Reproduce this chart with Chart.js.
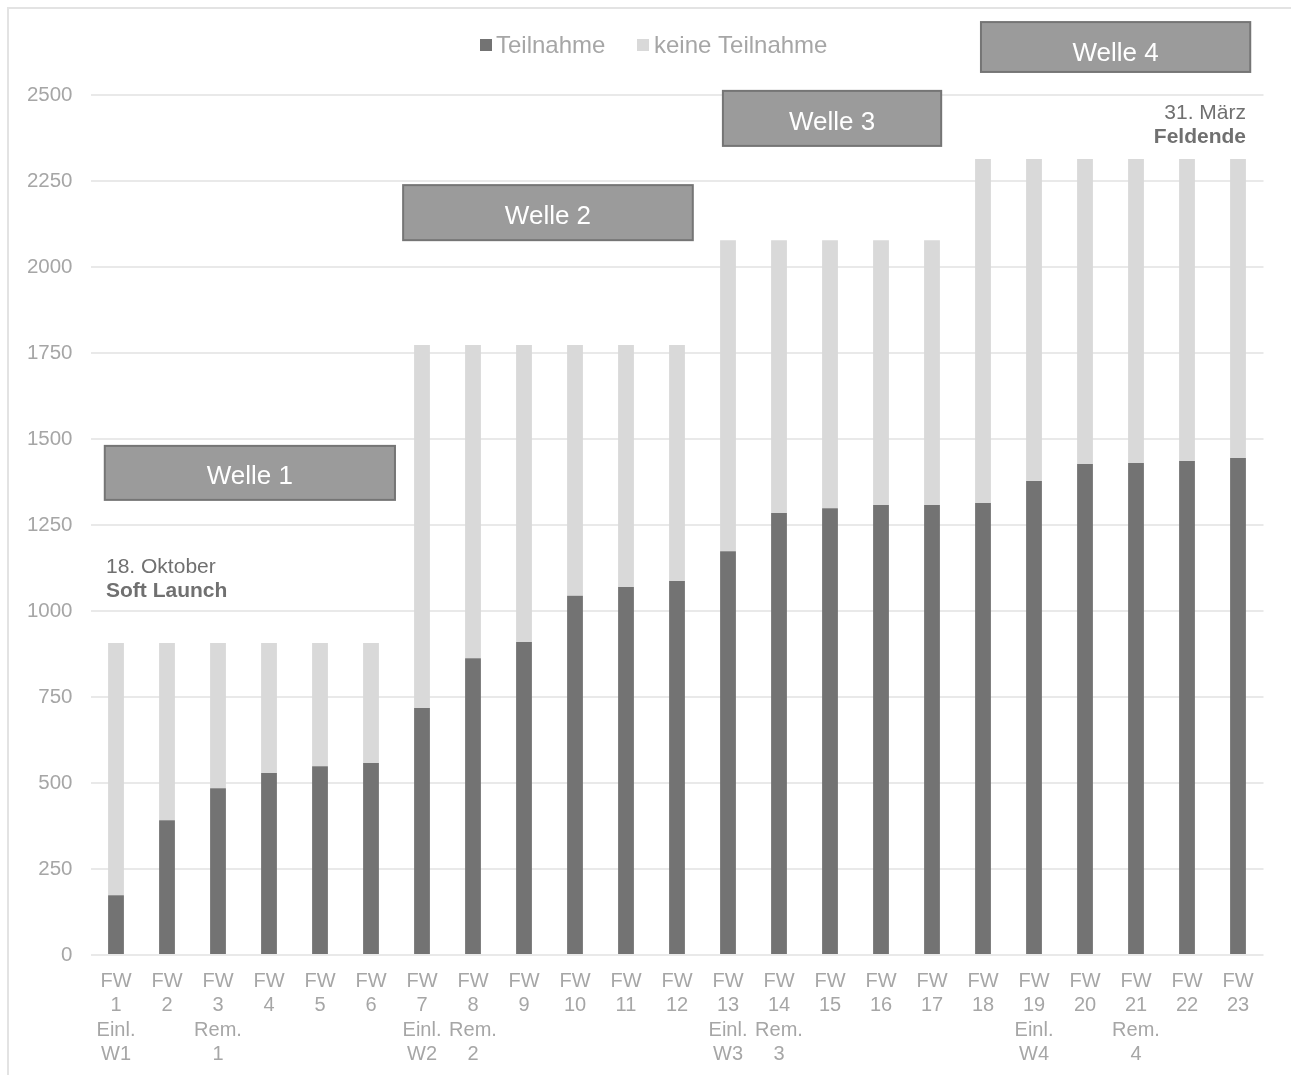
<!DOCTYPE html>
<html>
<head>
<meta charset="utf-8">
<script src="https://cdn.jsdelivr.net/npm/chart.js@4/dist/chart.umd.min.js"></script>
<style>
  html, body { margin: 0; padding: 0; background: #ffffff; }
  #wrap { width: 1291px; height: 1075px; position: relative; }
</style>
</head>
<body>
<div id="wrap"><canvas id="c" width="1291" height="1075"></canvas></div>
<script>
// ---- Data ----
const categories = [
  ["FW","1","Einl.","W1"], ["FW","2"], ["FW","3","Rem.","1"], ["FW","4"], ["FW","5"], ["FW","6"],
  ["FW","7","Einl.","W2"], ["FW","8","Rem.","2"], ["FW","9"], ["FW","10"], ["FW","11"], ["FW","12"],
  ["FW","13","Einl.","W3"], ["FW","14","Rem.","3"], ["FW","15"], ["FW","16"], ["FW","17"], ["FW","18"],
  ["FW","19","Einl.","W4"], ["FW","20"], ["FW","21","Rem.","4"], ["FW","22"], ["FW","23"]
];
const teilnahme = [174, 392, 485, 529, 549, 558, 718, 863, 910, 1044, 1070, 1087,
                   1174, 1285, 1299, 1308, 1308, 1314, 1378, 1427, 1430, 1436, 1445];
const eingeladen = [907, 907, 907, 907, 907, 907, 1773, 1773, 1773, 1773, 1773, 1773,
                    2078, 2078, 2078, 2078, 2078, 2314, 2314, 2314, 2314, 2314, 2314];
const keineTeilnahme = eingeladen.map((t, i) => t - teilnahme[i]);
const seriesNames = ["Teilnahme", "keine Teilnahme"];
const waveLabels = ["Welle 1", "Welle 2", "Welle 3", "Welle 4"];
// wave boxes: [xStart index, xEnd index, yTop value, yBottom value]
const waveBoxes = [
  [-0.22, 5.47, 1480, 1323],
  [5.63, 11.31, 2238, 2078],
  [11.9, 16.18, 2512, 2352],
  [16.96, 22.24, 2712, 2567]
];
const startNote = ["18. Oktober", "Soft Launch"];
const endNote = ["31. März", "Feldende"];
const yTicksMax = 2500, yStep = 250;

const FONT = "'Liberation Sans', Arial, sans-serif";
const DARK = "#737373", LIGHT = "#d9d9d9", TXT = "#a6a6a6";

const overlay = {
  id: 'overlay',
  afterDraw(chart) {
    const ctx = chart.ctx;
    const xs = chart.scales.x, ys = chart.scales.y;
    ctx.save();
    // outer frame (top and left)
    ctx.strokeStyle = "#e3e3e3";
    ctx.lineWidth = 2;
    ctx.beginPath();
    ctx.moveTo(8, 1075); ctx.lineTo(8, 8); ctx.lineTo(1291, 8);
    ctx.stroke();

    // legend
    ctx.font = "24px " + FONT;
    ctx.textBaseline = "middle";
    ctx.textAlign = "left";
    ctx.fillStyle = DARK; ctx.fillRect(480, 39, 12, 12);
    ctx.fillStyle = TXT; ctx.fillText(seriesNames[0], 496, 46);
    ctx.fillStyle = LIGHT; ctx.fillRect(637, 39, 12, 12);
    ctx.fillStyle = TXT; ctx.fillText(seriesNames[1], 654, 46);

    // wave boxes
    waveBoxes.forEach((b, i) => {
      const x1 = xs.getPixelForValue(b[0]), x2 = xs.getPixelForValue(b[1]);
      const y1 = ys.getPixelForValue(b[2]), y2 = ys.getPixelForValue(b[3]);
      ctx.fillStyle = "#9b9b9b";
      ctx.fillRect(x1, y1, x2 - x1, y2 - y1);
      ctx.strokeStyle = "#757575";
      ctx.lineWidth = 2;
      ctx.strokeRect(x1, y1, x2 - x1, y2 - y1);
      ctx.fillStyle = "#ffffff";
      ctx.font = "26px " + FONT;
      ctx.textAlign = "center";
      ctx.textBaseline = "middle";
      ctx.fillText(waveLabels[i], (x1 + x2) / 2, (y1 + y2) / 2 + (i === 3 ? 7 : 4));
    });

    // notes
    ctx.fillStyle = "#707070";
    ctx.textBaseline = "middle";
    ctx.textAlign = "left";
    const sx = xs.getPixelForValue(0) - 10;
    ctx.font = "21px " + FONT;
    ctx.fillText(startNote[0], sx, ys.getPixelForValue(1128));
    ctx.font = "bold 21px " + FONT;
    ctx.fillText(startNote[1], sx, ys.getPixelForValue(1058));
    ctx.textAlign = "right";
    const ex = xs.getPixelForValue(22) + 8;
    ctx.font = "21px " + FONT;
    ctx.fillText(endNote[0], ex, ys.getPixelForValue(2448));
    ctx.font = "bold 21px " + FONT;
    ctx.fillText(endNote[1], ex, ys.getPixelForValue(2378));
    ctx.restore();
  }
};

new Chart(document.getElementById('c'), {
  type: 'bar',
  data: {
    labels: categories,
    datasets: [
      { label: seriesNames[0], data: teilnahme, backgroundColor: DARK,
        barPercentage: 0.31, categoryPercentage: 1.0 },
      { label: seriesNames[1], data: keineTeilnahme, backgroundColor: LIGHT,
        barPercentage: 0.31, categoryPercentage: 1.0 }
    ]
  },
  options: {
    responsive: false,
    animation: false,
    devicePixelRatio: 1,
    layout: { padding: { top: 95, right: 27.5, left: 0, bottom: 0 } },
    plugins: { legend: { display: false }, tooltip: { enabled: false } },
    scales: {
      x: {
        stacked: true,
        grid: { display: false, drawTicks: false },
        border: { display: false },
        ticks: {
          color: TXT, padding: 14, maxRotation: 0, autoSkip: false,
          font: { family: FONT, size: 20, lineHeight: 1.22 }
        },
        afterFit(s) { s.height = 120; }
      },
      y: {
        stacked: true,
        min: 0, max: yTicksMax,
        grid: { color: "#e9e9e9", lineWidth: 2, drawTicks: false },
        border: { display: false },
        ticks: {
          stepSize: yStep, color: TXT, padding: 18,
          font: { family: FONT, size: 20.5 },
          callback: (v) => String(v)
        },
        afterFit(s) { s.width = 90.5; }
      }
    }
  },
  plugins: [overlay]
});
</script>
</body>
</html>
